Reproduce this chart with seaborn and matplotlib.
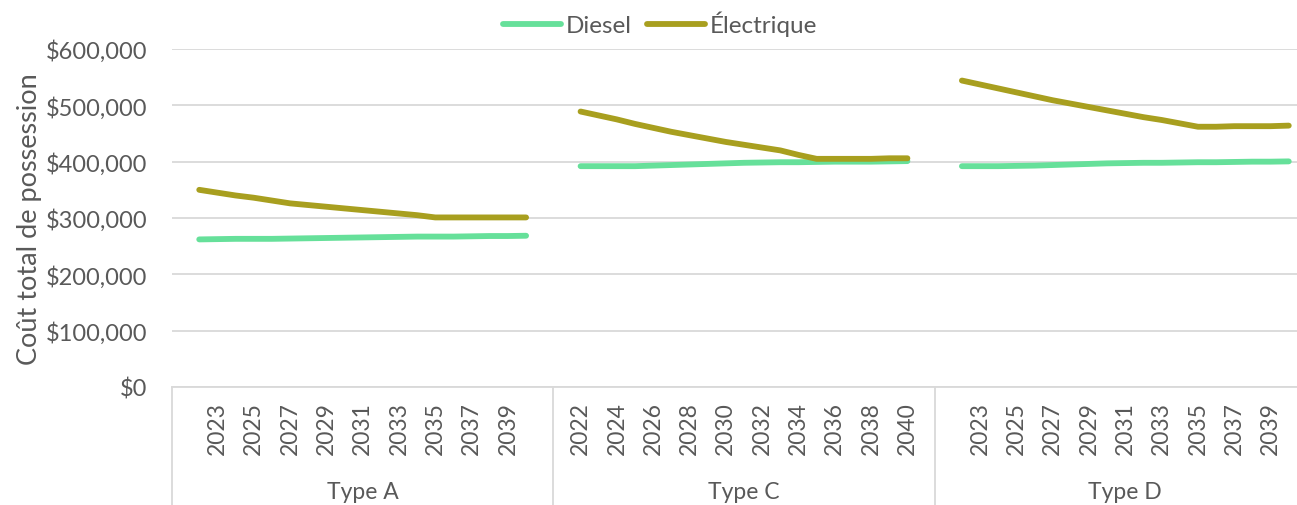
import numpy as np
import pandas as pd
import seaborn as sns
import matplotlib.pyplot as plt
import matplotlib.transforms as mtransforms
from matplotlib.ticker import FuncFormatter

# données
years = list(range(2022, 2041))
groups = ["Type A", "Type C", "Type D"]
fuels = ["Diesel", "Électrique"]

diesel_a = [262, 262.5, 263, 263, 263, 263.5, 264, 264.5, 265, 265.5, 266, 266.5, 267, 267, 267, 267.5, 268, 268, 268.5]
elec_a = [350, 345, 340, 336, 331, 326, 323, 320, 317, 314, 311, 308, 305, 301, 301, 301, 301, 301, 301]
diesel_c = [392, 392, 392, 392, 393, 394, 395, 396, 397, 398, 398.5, 399, 399, 399.5, 400, 400, 400, 400.5, 401]
elec_c = [489, 482, 475, 467, 460, 453, 447, 441, 435, 430, 425, 420, 412, 405, 405, 405, 405, 406, 406]
diesel_d = [392, 392, 392, 392.5, 393, 394, 395, 396, 397, 397.5, 398, 398, 398.5, 399, 399, 399.5, 400, 400, 400.5]
elec_d = [544, 537, 530, 523, 516, 509, 503, 497, 491, 485, 479, 474, 468, 462, 462, 463, 463, 463, 464]

series = {
    "Type A": (diesel_a, elec_a),
    "Type C": (diesel_c, elec_c),
    "Type D": (diesel_d, elec_d),
}

# axe à catégories : une case vide avant et après chaque groupe
n_cat = len(years) + 2
rows = []
labels = []
for g, grp in enumerate(groups):
    labels += [""] + [str(y) for y in years] + [""]
    for fuel, vals in zip(fuels, series[grp]):
        for i, v in enumerate(vals):
            rows.append({"pos": g * n_cat + 1 + i, "cost": v * 1000, "fuel": fuel, "group": grp})
df = pd.DataFrame(rows)

grey = "#595959"
grid = "#d9d9d9"
palette = {"Diesel": "#66e09a", "Électrique": "#a89f1f"}

sns.set_theme(style="white")
plt.rcParams["font.family"] = ["Lato", "DejaVu Sans"]

fig = plt.figure(figsize=(12.97, 5.06), dpi=100)
ax = fig.add_axes([172 / 1297, 118 / 506, 1144 / 1297, 338 / 506])

sns.lineplot(data=df, x="pos", y="cost", hue="fuel", units="group", estimator=None,
             palette=palette, linewidth=4.2, solid_capstyle="round", ax=ax, legend=False)

ax.set_ylim(0, 600000)
ax.set_yticks(np.arange(0, 600001, 100000))
ax.yaxis.set_major_formatter(FuncFormatter(lambda v, p: f"${v:,.0f}"))
ax.grid(axis="y", color=grid, linewidth=1.3)
ax.set_axisbelow(True)

total = n_cat * len(groups)
ax.set_xlim(-0.5, total - 0.5)
ticks = list(range(0, total, 2))
ax.set_xticks(ticks)
ax.set_xticklabels([labels[t] for t in ticks], rotation=90)
ax.tick_params(axis="x", length=0, pad=10, labelsize=16.5, labelcolor=grey)
ax.tick_params(axis="y", length=0, pad=18, labelsize=17, labelcolor=grey)

for s in ["top", "right", "left"]:
    ax.spines[s].set_visible(False)
ax.spines["bottom"].set_color(grid)
ax.spines["bottom"].set_linewidth(1.3)

ax.set_xlabel("")
ax.set_ylabel("Coût total de possession", fontsize=19.5, color=grey)
ax.yaxis.set_label_coords(-0.114, 0.5)

# séparateurs et libellés des groupes
trans = mtransforms.blended_transform_factory(ax.transData, ax.transAxes)
for g in range(len(groups) + 1):
    xb = g * n_cat - 0.5
    ax.plot([xb, xb], [0, -0.4], color=grid, linewidth=1.3, transform=trans, clip_on=False)
for g, grp in enumerate(groups):
    ax.text(g * n_cat + (n_cat - 1) / 2, -0.31, grp, transform=trans, ha="center", va="center",
            fontsize=16.5, color=grey)

handles = [plt.Line2D([], [], color=palette[f], linewidth=4.2, solid_capstyle="round") for f in fuels]
fig.legend(handles, fuels, loc="upper center", bbox_to_anchor=(660 / 1297, 1.02), ncol=2,
           frameon=False, fontsize=17.5, handlelength=2.4, handletextpad=0.2, columnspacing=0.6,
           labelcolor=grey)

fig.savefig("out.png", dpi=100)
